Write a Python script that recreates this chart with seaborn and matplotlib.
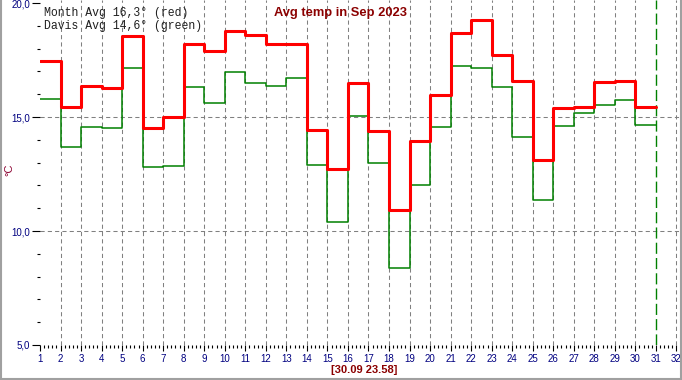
import matplotlib
matplotlib.use("Agg")
import matplotlib.pyplot as plt
import seaborn as sns
import pandas as pd
from matplotlib.ticker import FixedLocator, MultipleLocator, FuncFormatter
from matplotlib.lines import Line2D

# daily averages for September 2023 (day 1..30)
days = list(range(1, 31))
month_avg = [17.47, 15.44, 16.36, 16.27, 18.57, 14.52, 15.00, 18.20, 17.89, 18.77,
             18.58, 18.20, 18.20, 14.44, 12.73, 16.50, 14.39, 10.92, 13.93, 15.95,
             18.68, 19.25, 17.73, 16.58, 13.13, 15.41, 15.44, 16.54, 16.58, 15.44]
davis_avg = [15.78, 13.67, 14.55, 14.50, 17.14, 12.81, 12.85, 16.30, 15.61, 16.99,
             16.49, 16.35, 16.71, 12.88, 10.39, 15.03, 13.00, 8.38, 12.00, 14.55,
             17.22, 17.13, 16.30, 14.11, 11.35, 14.60, 15.16, 15.51, 15.73, 14.64]
x_ticks = list(range(1, 33))
y_ticks = [5, 10, 15, 20]
legend_lines = ["Month Avg 16,3° (red)", "Davis Avg 14,6° (green)"]
title = "Avg temp in Sep 2023"
stamp = "[30.09 23.58]"
now_day = 31

sns.set_style("white")
plt.rcParams['font.family'] = ['Liberation Sans', 'DejaVu Sans']

# step lines need a closing point at the end of the last day
df = pd.DataFrame({
    "day": days + [days[-1] + 1],
    "month": month_avg + [month_avg[-1]],
    "davis": davis_avg + [davis_avg[-1]],
})

W, H = 682, 380
fig = plt.figure(figsize=(W / 100, H / 100), dpi=100)
ax = fig.add_axes([40 / W, 35 / H, 640 / W, 345 / H])

grid_kw = dict(color="#808080", lw=0.75, dashes=(4, 3), zorder=0)
for d in x_ticks[1:]:
    if d != now_day:
        ax.axvline(d, **grid_kw)
for v in [10, 15]:
    ax.axhline(v, **grid_kw)
ax.axvline(now_day, color="#008000", lw=1.0, dashes=(8, 3), zorder=1)

sns.lineplot(data=df, x="day", y="davis", ax=ax, color="#008000", lw=1.1,
             drawstyle="steps-post", estimator=None, zorder=2)
sns.lineplot(data=df, x="day", y="month", ax=ax, color="#ff0000", lw=2.2,
             drawstyle="steps-post", estimator=None, zorder=3)

ax.set_xlim(1, 1 + 640 / 20.53)
ax.set_ylim(5, 20 + 3 / 22.8)
for s in ax.spines.values():
    s.set_visible(False)
ax.set_xlabel("")
ax.set_ylabel("")

ax.xaxis.set_major_locator(FixedLocator(x_ticks))
ax.xaxis.set_minor_locator(MultipleLocator(0.2))
ax.yaxis.set_major_locator(FixedLocator(y_ticks))
ax.yaxis.set_minor_locator(MultipleLocator(1))
ax.yaxis.set_major_formatter(FuncFormatter(lambda v, p: f"{v:.1f}".replace(".", ",")))
ax.tick_params(which="both", bottom=True, left=True, top=False, right=False)
ax.tick_params(axis="x", which="major", direction="out", length=4.5, width=0.8,
               color="black", labelsize=7, labelcolor="#000080", pad=2)
ax.tick_params(axis="x", which="minor", direction="out", length=2.2, width=0.8,
               color="black")
ax.tick_params(axis="y", which="major", direction="out", length=6, width=0.8,
               color="black", labelsize=7, labelcolor="#000080", pad=1)
ax.tick_params(axis="y", which="minor", direction="out", length=2.2, width=0.8,
               color="black")

fig.text(341 / W, 1 - 13 / H, title, ha="center", va="center", fontsize=9.3,
         fontweight="bold", color="#8B0000")
fig.text(364 / W, 1 - 370 / H, stamp, ha="center", va="center", fontsize=8,
         fontweight="bold", color="#8B0000")
fig.text(9 / W, 1 - 170 / H, "°C", ha="center", va="center", fontsize=8,
         rotation=90, color="#8B0030")
for i, line in enumerate(legend_lines):
    fig.text(44 / W, 1 - (13 + 13 * i) / H, line, ha="left", va="center",
             fontsize=8.3, family="Liberation Mono", color="#202020")

# window frame
frame_kw = dict(color="#a0a0a0", lw=1.5, transform=fig.transFigure)
fig.add_artist(Line2D([0.7 / W, 0.7 / W], [0, 1], **frame_kw))
fig.add_artist(Line2D([1 - 0.7 / W, 1 - 0.7 / W], [0, 1], **frame_kw))
fig.add_artist(Line2D([0, 1], [1.5 / H, 1.5 / H], **frame_kw))

fig.savefig("out.png", dpi=100)
